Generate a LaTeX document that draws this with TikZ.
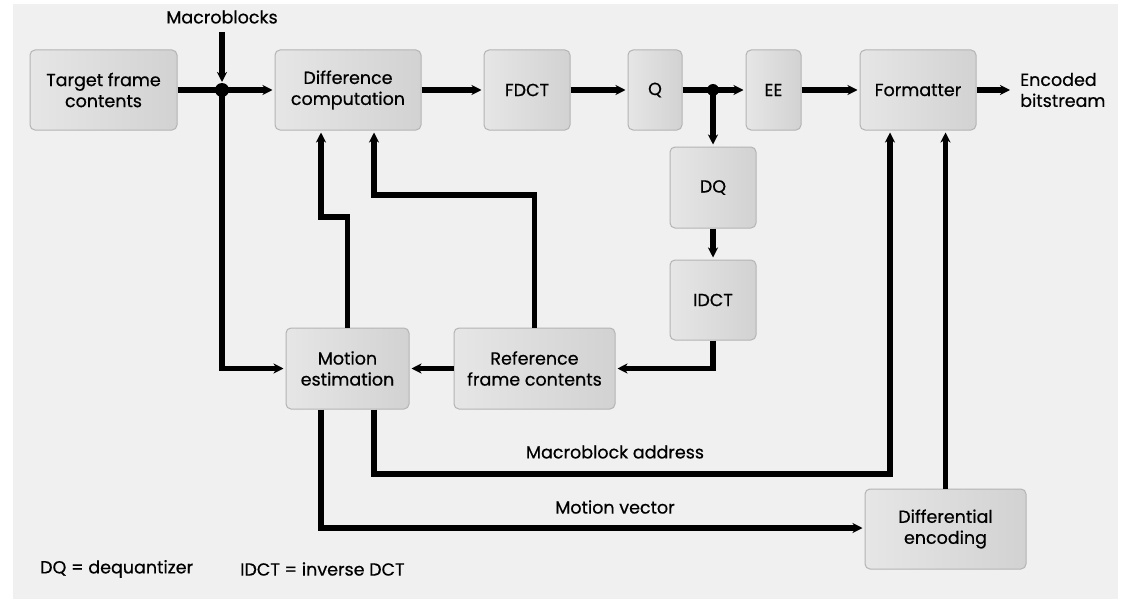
\documentclass[tikz,border=0pt]{standalone}
\usepackage{fontspec}
\setmainfont{Poppins}[FakeBold=0.6]
\usetikzlibrary{arrows.meta,calc}
\definecolor{bgc}{HTML}{F0F0F0}
\definecolor{boxL}{HTML}{E6E6E6}
\definecolor{boxR}{HTML}{D2D2D2}
\definecolor{boxB}{HTML}{B4B4B4}
\begin{document}
\begin{tikzpicture}[x=1pt,y=-1pt,
  blk/.style={draw=boxB, line width=1pt, rounded corners=5pt, left color=boxL, right color=boxR,
    align=center, inner sep=0pt, font=\fontsize{17.5}{21}\selectfont},
  lbl/.style={inner sep=0pt, align=center, font=\fontsize{17.5}{21}\selectfont},
  wire/.style={line width=5.5pt, line join=miter},
  arr/.style={wire, -{Stealth[length=10pt,width=10pt,inset=3pt]}, shorten >=2pt},
  jdot/.style={circle, fill=black, inner sep=0pt, minimum size=14pt}]
\useasboundingbox (0,0) rectangle (1130,602);
\fill[white] (0,0) rectangle (1130,602);
\fill[bgc] (13,4) rectangle (1118,599);

% blocks
\node[blk, minimum width=147pt, minimum height=80pt] (tfc) at (103.5,90) {Target frame\\contents};
\node[blk, minimum width=146pt, minimum height=80pt] (diff) at (348,90) {Difference\\computation};
\node[blk, minimum width=86pt, minimum height=80pt] (fdct) at (527,90) {FDCT};
\node[blk, minimum width=54pt, minimum height=80pt] (q) at (655,90) {Q};
\node[blk, minimum width=55pt, minimum height=80pt] (ee) at (773.5,90) {EE};
\node[blk, minimum width=116pt, minimum height=80pt] (fmt) at (918,90) {Formatter};
\node[blk, minimum width=86pt, minimum height=81pt] (dq) at (713,187.5) {DQ};
\node[blk, minimum width=86pt, minimum height=80pt] (idct) at (713,300) {IDCT};
\node[blk, minimum width=123pt, minimum height=81pt] (me) at (347.5,368.5) {Motion\\estimation};
\node[blk, minimum width=161pt, minimum height=81pt] (ref) at (534.5,368.5) {Reference\\frame contents};
\node[blk, minimum width=161pt, minimum height=80pt] (de) at (945.5,529) {Differential\\encoding};

% labels
\node[lbl] (mbl) at (222,17) {Macroblocks};
\node[lbl, align=left, anchor=west] (out) at (1020,90) {Encoded\\bitstream};
\node[lbl] (mbal) at (615,452) {Macroblock address};
\node[lbl] (mvl) at (615,507) {Motion vector};
\node[lbl, anchor=west] (leg1) at (40,569) {DQ = dequantizer};
\node[lbl, anchor=west] (leg2) at (240,569) {IDCT = inverse DCT};

% junctions and bends
\coordinate (mbtop) at (222,32);
\coordinate (j1) at (222,90);
\coordinate (j2) at (713,90);
\coordinate (outend) at (1012,90);
\coordinate (b1) at (347.5,217);
\coordinate (b2) at (321,217);
\coordinate (b3) at (534.5,195);
\coordinate (b4) at (374,195);
\coordinate (b5) at (374,474);
\coordinate (b6) at (890,474);
\coordinate (b7) at (321,528);

% connectors
\draw[arr] (mbtop) -- ($(j1)+(0,-6)$);
\draw[arr] (j1) |- (me.west);
\draw[wire] (tfc.east) -- (j1);
\draw[arr] (j1) -- (diff.west);
\draw[arr] (diff.east) -- (fdct.west);
\draw[arr] (fdct.east) -- (q.west);
\draw[wire] (q.east) -- (j2);
\draw[arr] (j2) -- (ee.west);
\draw[arr] (j2) -- (dq.north);
\draw[arr] (ee.east) -- (fmt.west);
\draw[arr] (fmt.east) -- (outend);
\draw[arr] (dq.south) -- (idct.north);
\draw[arr] (idct.south) |- (ref.east);
\draw[arr] (ref.west) -- (me.west -| me.east);
\draw[arr] (me.north) -- (b1) -- (b2) -- (b2 |- diff.south);
\draw[arr] (ref.north) -- (b3) -- (b4) -- (b4 |- diff.south);
\draw[arr] (b4 |- me.south) -- (b5) -- (b6) -- (b6 |- fmt.south);
\draw[arr] (b2 |- me.south) -- (b7) -- (b7 -| de.west);
\draw[arr] (de.north) -- (de.north |- fmt.south);

\node[jdot] at (j1) {};
\node[jdot, minimum size=12pt] at (j2) {};
\end{tikzpicture}
\end{document}
